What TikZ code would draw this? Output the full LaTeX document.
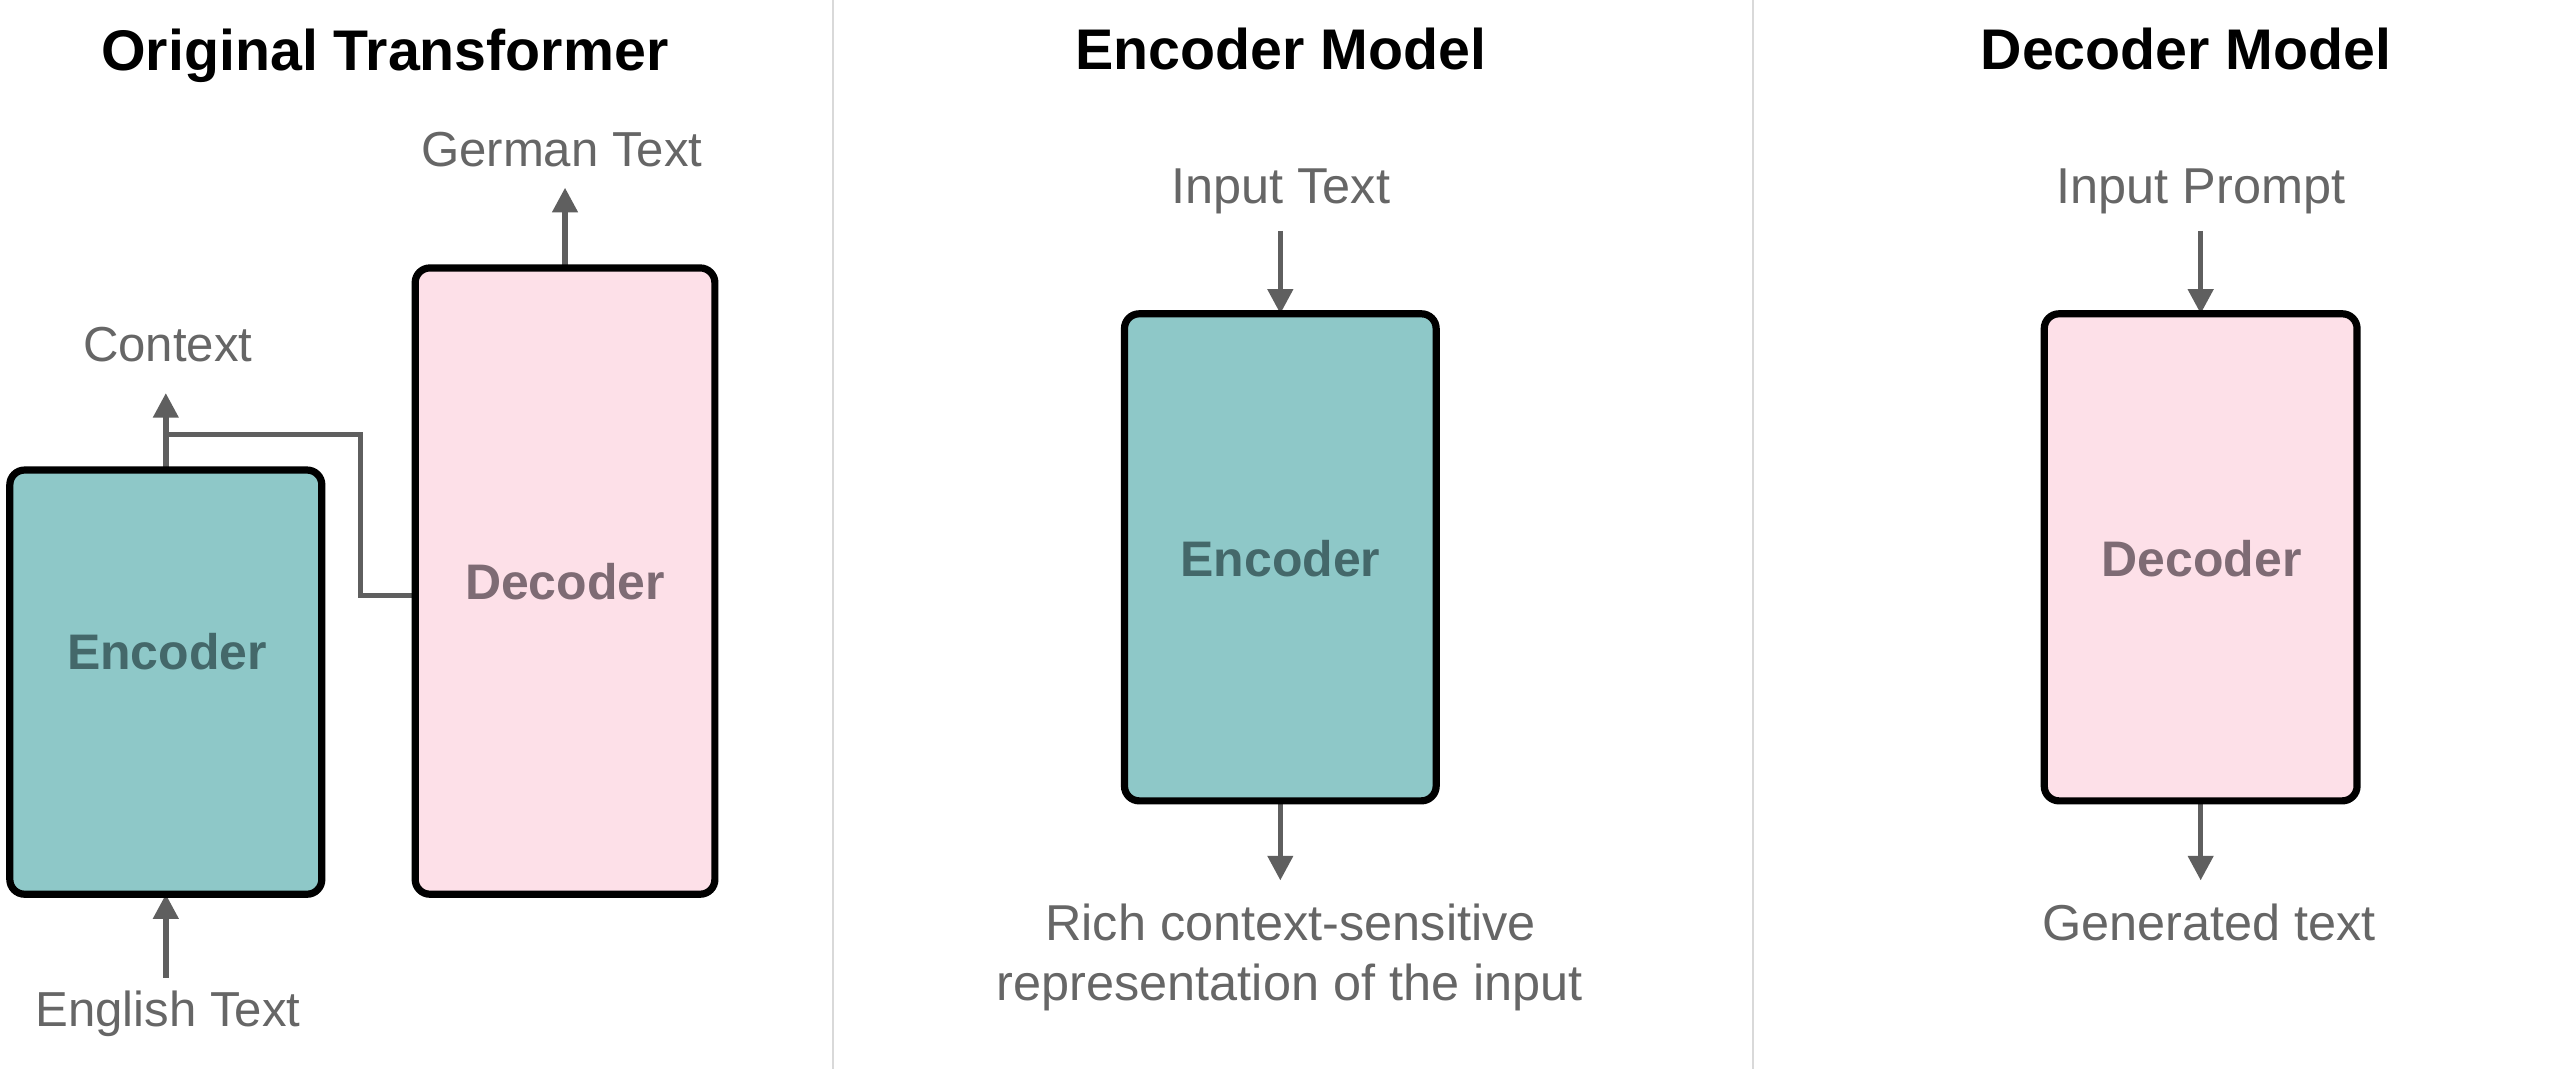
\documentclass[tikz,border=0pt]{standalone}
\usepackage{fontspec}
\setmainfont{Liberation Sans}
\usetikzlibrary{arrows.meta,backgrounds}
\definecolor{encfill}{HTML}{8EC8C8}
\definecolor{decfill}{HTML}{FDE0E8}
\definecolor{enctext}{HTML}{44686A}
\definecolor{dectext}{HTML}{7E6B74}
\definecolor{lblgray}{HTML}{666666}
\definecolor{arrgray}{HTML}{5F5F5F}
\definecolor{divgray}{HTML}{D9D9D9}
\begin{document}
\begin{tikzpicture}[x=1pt,y=-1pt,
  box/.style={draw=black,line width=4.4pt,rounded corners=9pt,inner sep=0pt,outer sep=0pt},
  encbox/.style={box,fill=encfill},
  decbox/.style={box,fill=decfill},
  boxlbl/.style={font=\fontsize{30.5}{36}\selectfont\bfseries,inner sep=0pt},
  title/.style={font=\fontsize{35}{42}\selectfont\bfseries,text=black,anchor=base,inner sep=0pt},
  lbl/.style={font=\fontsize{30}{36}\selectfont,text=lblgray,anchor=base,inner sep=0pt},
  lblm/.style={font=\fontsize{30.8}{36}\selectfont,text=lblgray,anchor=base,inner sep=0pt},
  arr/.style={draw=arrgray,line width=3.3pt,-{Triangle[length=15pt,width=15pt]}},
  conn/.style={draw=arrgray,line width=3.1pt},
  divider/.style={draw=divgray,line width=1.5pt}]
\useasboundingbox (0,0) rectangle (1568,653);

% titles
\node[title] (t1) at (235,43) {Original Transformer};
\node[title] (t2) at (782,42.5) {Encoder Model};
\node[title] (t3) at (1334.8,42.5) {Decoder Model};

% left panel
\node[encbox,minimum width=190.5pt,minimum height=259pt] (encL) at (101.25,416.5) {};
\node[boxlbl,text=enctext] (encLlbl) at (102,398) {Encoder};
\node[decbox,minimum width=183pt,minimum height=382.4pt] (decL) at (345,354.8) {};
\node[boxlbl,text=dectext] (decLlbl) at (345,355) {Decoder};
\node[lbl] (german) at (343,101.4) {German Text};
\node[lbl] (context) at (102.4,221) {Context};
\node[lbl] (english) at (102.6,627) {English Text};
\coordinate (ctxtip) at (101.25,240);
\coordinate (gertip) at (345,114.6);
\coordinate (engtail) at (101.25,597);
\coordinate (br) at (101.25,265.5);
\coordinate (bend) at (220,265.5);
\coordinate (bend2) at (220,363.5);
\coordinate (decin) at (253.5,363.5);

% middle panel
\node[encbox,minimum width=190.3pt,minimum height=297.4pt] (encM) at (781.75,340.3) {};
\node[boxlbl,text=enctext] (encMlbl) at (781.75,341) {Encoder};
\node[lblm] (inputtext) at (782,124) {Input Text};
\node[lblm] (rich1) at (788,574.3) {Rich context-sensitive};
\node[lblm] (rich2) at (787.6,610.6) {representation of the input};
\coordinate (mtail) at (781.75,141);
\coordinate (mtip) at (781.75,537.6);

% right panel
\node[decbox,minimum width=191pt,minimum height=297.4pt] (decR) at (1343.7,340.3) {};
\node[boxlbl,text=dectext] (decRlbl) at (1344.3,341) {Decoder};
\node[lblm] (prompt) at (1344,124) {Input Prompt};
\node[lblm] (generated) at (1348.8,574.3) {Generated text};
\coordinate (rtail) at (1343.7,141);
\coordinate (rtip) at (1343.7,537.6);

\begin{scope}[on background layer]
\fill[white] (0,0) rectangle (1568,653);
\draw[divider] (508.5,0) -- (508.5,653);
\draw[divider] (1070.5,0) -- (1070.5,653);
\draw[arr] (encL.north) -- (ctxtip);
\draw[conn] (br) -- (bend) -- (bend2) -- (decin);
\draw[arr] (decL.north) -- (gertip);
\draw[arr] (engtail) -- (encL.south);
\draw[arr] (mtail) -- (encM.north);
\draw[arr] (encM.south) -- (mtip);
\draw[arr] (rtail) -- (decR.north);
\draw[arr] (decR.south) -- (rtip);
\end{scope}
\end{tikzpicture}
\end{document}
